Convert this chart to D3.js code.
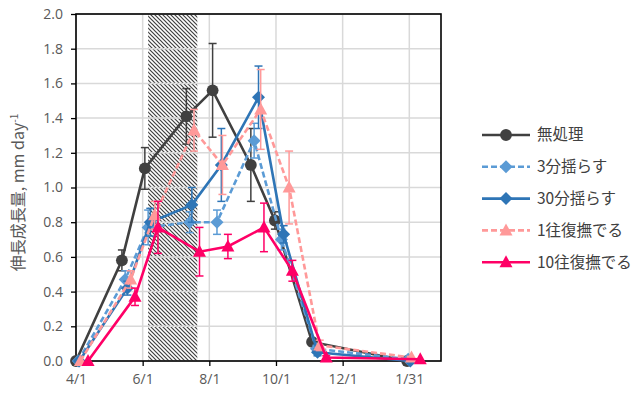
<!DOCTYPE html>
<html>
<head>
<meta charset="utf-8">
<script src="https://cdn.jsdelivr.net/npm/d3@7"></script>
<style>
	body { margin: 0; background: #fff; }
	svg { display: block; font-family: "Noto Sans CJK JP", "Open Sans", sans-serif; }
</style>
</head>
<body>
<div id="chart"></div>
<script>
// 系列名
var seriesNames = ['無処理', '3分揺らす', '30分揺らす', '1往復撫でる', '10往復撫でる'];

// 測定日 (系列ごとに少しずらしてある)
var dates0 = ['2019-04-01', '2019-05-13', '2019-06-03', '2019-07-11', '2019-08-04', '2019-09-08', '2019-09-30', '2019-11-03', '2020-01-29'];
var dates1 = ['2019-04-03', '2019-05-16', '2019-06-06', '2019-07-14', '2019-08-08', '2019-09-11', '2019-10-06', '2019-11-07', '2020-01-30'];
var dates2 = ['2019-04-04', '2019-05-18', '2019-06-08', '2019-07-16', '2019-08-12', '2019-09-15', '2019-10-08', '2019-11-08', '2020-02-01'];
var dates3 = ['2019-04-05', '2019-05-21', '2019-06-12', '2019-07-18', '2019-08-13', '2019-09-17', '2019-10-13', '2019-11-10', '2020-02-02'];
var dates4 = ['2019-04-12', '2019-05-25', '2019-06-15', '2019-07-23', '2019-08-18', '2019-09-20', '2019-10-16', '2019-11-16', '2020-02-10'];

// 伸長成長量 mm/day
var values0 = [0.00, 0.58, 1.11, 1.41, 1.56, 1.13, 0.81, 0.11, 0.00];
var values1 = [0.00, 0.47, 0.77, 0.80, 0.80, 1.27, 0.70, 0.07, 0.01];
var values2 = [0.00, 0.42, 0.80, 0.90, 1.13, 1.52, 0.73, 0.05, 0.00];
var values3 = [0.00, 0.47, 0.84, 1.33, 1.13, 1.45, 1.00, 0.09, 0.02];
var values4 = [0.00, 0.37, 0.77, 0.63, 0.66, 0.77, 0.52, 0.02, 0.01];

// 標準誤差
var errors0 = [0, 0.06, 0.12, 0.16, 0.27, 0.21, 0.05, 0.02, 0];
var errors1 = [0, 0.05, 0.10, 0.06, 0.07, 0.10, 0.06, 0.02, 0];
var errors2 = [0, 0.04, 0.08, 0.10, 0.21, 0.18, 0.05, 0.02, 0];
var errors3 = [0, 0.05, 0.08, 0.12, 0.17, 0.23, 0.21, 0.03, 0];
var errors4 = [0, 0.05, 0.15, 0.14, 0.07, 0.14, 0.06, 0.01, 0];

// 軸
var xTicks = ['2019-04-01', '2019-06-01', '2019-08-01', '2019-10-01', '2019-12-01', '2020-01-31'];
var xDomain = ['2019-04-01', '2020-02-29'];
var yTicks = [0, 0.2, 0.4, 0.6, 0.8, 1.0, 1.2, 1.4, 1.6, 1.8, 2.0];
// 網掛け期間
var shadeRange = ['2019-06-06', '2019-07-21'];

var parse = d3.timeParse('%Y-%m-%d');
var allDates = [dates0, dates1, dates2, dates3, dates4];
var allValues = [values0, values1, values2, values3, values4];
var allErrors = [errors0, errors1, errors2, errors3, errors4];

var styles = [
	{ color: '#404040', dash: null, marker: 'circle' },
	{ color: '#5b9bd5', dash: '6,3', marker: 'diamond' },
	{ color: '#2e75b6', dash: null, marker: 'diamond' },
	{ color: '#ff9999', dash: '6,3', marker: 'triangle' },
	{ color: '#ff0066', dash: null, marker: 'triangle' }
];

var W = 640, H = 398;
var area = { l: 76, t: 14, r: 441, b: 361 };

var svg = d3.select('#chart').append('svg').attr('width', W).attr('height', H);

var x = d3.scaleTime().domain(xDomain.map(parse)).range([area.l, area.r]);
var y = d3.scaleLinear().domain([0, 2]).range([area.b, area.t]);

// 網掛けパターン
var defs = svg.append('defs');
var pat = defs.append('pattern').attr('id', 'hatch').attr('patternUnits', 'userSpaceOnUse')
	.attr('width', 4).attr('height', 4);
pat.append('rect').attr('width', 4).attr('height', 4).attr('fill', '#fff');
pat.append('path').attr('d', 'M-1,-1 L5,5 M-1,3 L1,5 M3,-1 L5,1')
	.attr('stroke', '#404040').attr('stroke-width', 1.2);

// 網掛け
svg.append('rect')
	.attr('x', x(parse(shadeRange[0])))
	.attr('y', area.t)
	.attr('width', x(parse(shadeRange[1])) - x(parse(shadeRange[0])))
	.attr('height', area.b - area.t)
	.attr('fill', 'url(#hatch)');

// グリッド
var grid = svg.append('g').attr('class', 'grid');
grid.selectAll('.gy').data(yTicks).enter().append('line')
	.attr('x1', area.l).attr('x2', area.r)
	.attr('y1', d => y(d)).attr('y2', d => y(d))
	.attr('stroke', '#d9d9d9').attr('stroke-width', 1.5);
grid.selectAll('.gx').data(xTicks).enter().append('line')
	.attr('x1', d => x(parse(d))).attr('x2', d => x(parse(d)))
	.attr('y1', area.t).attr('y2', area.b)
	.attr('stroke', '#d9d9d9').attr('stroke-width', 1.5);

// 枠
svg.append('rect').attr('x', area.l).attr('y', area.t)
	.attr('width', area.r - area.l).attr('height', area.b - area.t)
	.attr('fill', 'none').attr('stroke', '#000').attr('stroke-width', 1.6);

// 軸
var fmt = d3.timeFormat('%-m/%-d');
var xAxis = svg.append('g').attr('transform', 'translate(0,' + area.b + ')')
	.call(d3.axisBottom(x).tickValues(xTicks.map(parse)).tickFormat(fmt).tickSize(5).tickPadding(8));
var yAxis = svg.append('g').attr('transform', 'translate(' + area.l + ',0)')
	.call(d3.axisLeft(y).tickValues(yTicks).tickFormat(d3.format('.1f')).tickSize(5).tickPadding(8));
[xAxis, yAxis].forEach(function (g) {
	g.select('.domain').remove();
	g.selectAll('.tick line').attr('stroke', '#000').attr('stroke-width', 1.3);
	g.selectAll('.tick text').attr('fill', '#595959').style('font-size', '14px')
		.style('font-family', '"Open Sans", sans-serif');
});

// 軸タイトル
var yt = svg.append('text').attr('transform', 'translate(24,' + ((area.t + area.b) / 2 + 5) + ') rotate(-90)')
	.attr('text-anchor', 'middle').attr('fill', '#595959').style('font-size', '16px');
yt.append('tspan').text('伸長成長量, mm day');
yt.append('tspan').attr('dy', -6).style('font-size', '10px').text('-1');

// マーカー
function markerPath(type) {
	switch (type) {
		case 'circle':
			return d3.symbol().type(d3.symbolCircle).size(110)();
		case 'diamond':
			return 'M0,-6.5L6.5,0L0,6.5L-6.5,0Z';
		case 'triangle':
			return 'M0,-7L6.5,5L-6.5,5Z';
	}
}

var line = d3.line().x(d => x(d.date)).y(d => y(d.value));

allValues.forEach(function (vals, i) {
	var st = styles[i];
	var data = vals.map(function (v, j) {
		return { date: parse(allDates[i][j]), value: v, err: allErrors[i][j] };
	});
	var g = svg.append('g').attr('class', 'series-' + i);

	// エラーバー
	var eb = g.selectAll('.err').data(data.filter(d => d.err > 0)).enter().append('g')
		.attr('stroke', st.color).attr('stroke-width', 1.5);
	eb.append('line').attr('x1', d => x(d.date)).attr('x2', d => x(d.date))
		.attr('y1', d => y(d.value - d.err)).attr('y2', d => y(d.value + d.err));
	eb.append('line').attr('x1', d => x(d.date) - 4).attr('x2', d => x(d.date) + 4)
		.attr('y1', d => y(d.value + d.err)).attr('y2', d => y(d.value + d.err));
	eb.append('line').attr('x1', d => x(d.date) - 4).attr('x2', d => x(d.date) + 4)
		.attr('y1', d => y(d.value - d.err)).attr('y2', d => y(d.value - d.err));

	g.append('path').datum(data).attr('d', line)
		.attr('fill', 'none').attr('stroke', st.color).attr('stroke-width', 2.6)
		.attr('stroke-dasharray', st.dash);

	g.selectAll('.mk').data(data).enter().append('path')
		.attr('transform', d => 'translate(' + x(d.date) + ',' + y(d.value) + ')')
		.attr('d', markerPath(st.marker)).attr('fill', st.color);
});

// 凡例
var legend = svg.append('g').attr('transform', 'translate(482,135)');
seriesNames.forEach(function (name, i) {
	var st = styles[i];
	var row = legend.append('g').attr('transform', 'translate(0,' + (i * 31.8) + ')');
	row.append('line').attr('x1', 0).attr('x2', 48).attr('y1', 0).attr('y2', 0)
		.attr('stroke', st.color).attr('stroke-width', 2.6).attr('stroke-dasharray', st.dash);
	row.append('path').attr('transform', 'translate(24,0)').attr('d', markerPath(st.marker)).attr('fill', st.color);
	row.append('text').attr('x', 55).attr('y', 0).attr('dy', '0.35em')
		.attr('fill', '#404040').style('font-size', '15.5px').text(name);
});
</script>
</body>
</html>
